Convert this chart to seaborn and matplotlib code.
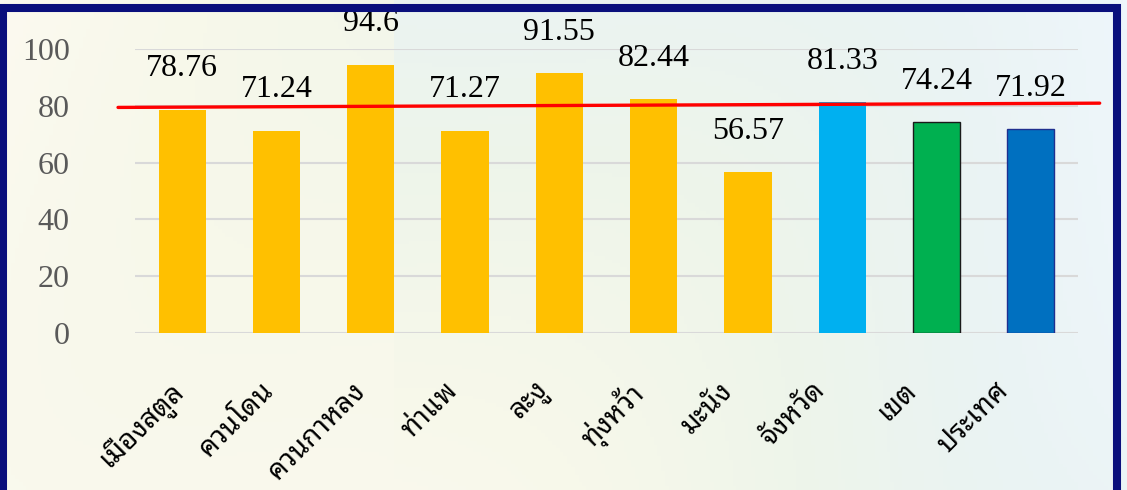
import numpy as np
import pandas as pd
import matplotlib
matplotlib.use("Agg")
import matplotlib.pyplot as plt
import matplotlib.transforms as mtransforms
from matplotlib.patches import Rectangle
from matplotlib.colors import LinearSegmentedColormap
import seaborn as sns

# Scores by area
districts = ["เมืองสตูล", "ควนโดน", "ควนกาหลง", "ท่าแพ", "ละงู",
             "ทุ่งหว้า", "มะนัง", "จังหวัด", "เขต", "ประเทศ"]
scores = [78.76, 71.24, 94.6, 71.27, 91.55, 82.44, 56.57, 81.33, 74.24, 71.92]
bar_colors = ["#FFC000"] * 7 + ["#00B0F0", "#00B050", "#0070C0"]
edge_colors = ["none"] * 7 + ["none", "#1a1a1a", "#1f2f8f"]
y_ticks = [0, 20, 40, 60, 80, 100]

# Target line (drawn across the plot)
target_x = [-0.68, 9.73]
target_y = [79.5, 81.0]

sns.set_theme(style="white")
plt.rcParams["font.family"] = ["Liberation Serif", "DejaVu Serif"]

W, H = 1127, 490
fig = plt.figure(figsize=(W / 100, H / 100), dpi=100)

# soft pastel backdrop
bg = fig.add_axes([0, 0, 1, 1], zorder=-10)
bg.set_axis_off()
xx = np.linspace(0, 1, 300)
yy = np.linspace(0, 1, 130)
X, Y = np.meshgrid(xx, yy)
field = np.clip(0.55 * X + 0.25 * (1 - Y) * (X > 0.35) + 0.1 * np.sin(6 * X + 2 * Y), 0, 1)
cmap = LinearSegmentedColormap.from_list(
    "wash", ["#fcfaf0", "#f7f8ea", "#eef5ea", "#eaf3f3", "#eef6fb"])
bg.imshow(field, cmap=cmap, aspect="auto", extent=[0, 1, 0, 1], origin="upper")
bg.set_xlim(0, 1)
bg.set_ylim(0, 1)

ax = fig.add_axes([135 / W, 1 - 332.8 / H, 943 / W, 283.5 / H])
ax.patch.set_alpha(0)

df = pd.DataFrame({"district": districts, "score": scores})
sns.barplot(data=df, x="district", y="score", hue="district", palette=bar_colors,
            width=0.5, legend=False, ax=ax, saturation=1)
for patch, ec in zip(ax.patches, edge_colors):
    if ec != "none":
        patch.set_edgecolor(ec)
        patch.set_linewidth(1.0)
    else:
        patch.set_linewidth(0)

ax.set_xlim(-0.5, len(districts) - 0.5)
ax.set_ylim(0, 100)
ax.set_yticks(y_ticks)
ax.yaxis.grid(True, color="#d9d9d9", linewidth=1.5)
ax.set_axisbelow(True)
for s in ax.spines.values():
    s.set_visible(False)
ax.set_xlabel("")
ax.set_ylabel("")
ax.tick_params(axis="y", length=0, pad=47, labelsize=23, labelcolor="#595959")
ax.tick_params(axis="x", length=0, pad=0)
for lab in ax.get_yticklabels():
    lab.set_fontfamily(["Liberation Serif"])

ax.set_xticks(range(len(districts)))
ax.set_xticklabels(districts, rotation=45, ha="right", va="top", rotation_mode="anchor",
                   fontsize=20, fontweight="medium", color="black",
                   family=["Noto Sans Thai Looped", "DejaVu Sans"])
for i, lab in enumerate(ax.get_xticklabels()):
    shift = mtransforms.ScaledTranslation((-14 - 2.5 * i) / 100, -44 / 100,
                                          fig.dpi_scale_trans)
    lab.set_transform(lab.get_transform() + shift)

for i, v in enumerate(scores):
    ax.annotate(f"{v:g}", (i, v), xytext=(0, 19), textcoords="offset points",
                ha="center", va="bottom", fontsize=23, color="black",
                family=["Liberation Serif"], annotation_clip=False)

ax.plot(target_x, target_y, color="#FF0000", linewidth=2.4, clip_on=False, zorder=5)

# dark frame around the panel
fig.add_artist(Rectangle((3.5 / W, -2 / H), (1117 - 3.5) / W, (482 + 2) / H,
                         transform=fig.transFigure, fill=False,
                         edgecolor="#0a0f7c", linewidth=5.8, zorder=20))

fig.savefig("out.png", dpi=100)
